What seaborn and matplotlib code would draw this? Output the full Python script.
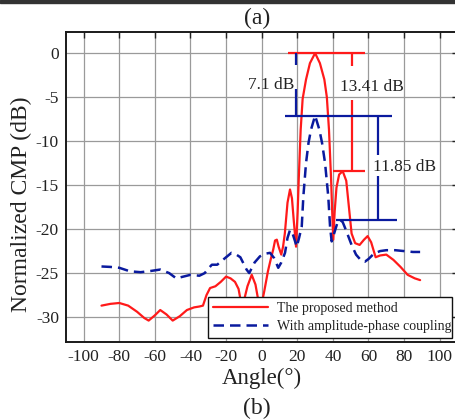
import matplotlib
matplotlib.use("Agg")
import matplotlib.pyplot as plt
from matplotlib.patches import Rectangle
import numpy as np
import pandas as pd
import seaborn as sns

# Normalized CMP of the proposed method (solid red)
proposed_angle = [-90, -85, -80, -75, -70, -66, -63.5, -60, -57, -53.5, -50, -46, -42, -38,
                  -35, -33, -31, -29, -26, -23, -20, -17.5, -15, -13, -11, -8, -5.6, -3.5,
                  -2, 0, 1.5, 3.5, 5, 6.5, 7.5, 8.5, 9.5, 11, 12, 13, 14.5, 15.9, 17, 18,
                  19.3, 20.2, 20.8, 21.9, 23, 24.9, 27.1, 30, 32.7, 35.2, 36.6, 37.8, 39.0,
                  39.6, 40.2, 41, 42, 43.5, 45.5, 47.5, 49, 50.5, 52.5, 55, 57.5, 59.5, 61.5,
                  64, 66.5, 70, 74, 78, 82, 86, 89]
proposed_cmp = [-28.7, -28.5, -28.4, -28.7, -29.4, -30.1, -30.4, -29.8, -29.2, -29.7, -30.4,
                -29.9, -29.2, -28.9, -28.8, -28.7, -27.5, -26.7, -26.5, -26.0, -25.4, -25.6,
                -26.0, -26.8, -29.0, -26.5, -25.2, -26.3, -28.0, -28.5, -27.0, -24.8, -23.5,
                -22.3, -21.3, -21.2, -22.0, -22.9, -22.0, -20.5, -17.0, -15.5, -16.5, -19.0,
                -22.0, -18.0, -14.4, -8.7, -5.2, -3.0, -1.14, 0.0, -1.14, -3.0, -5.0, -8.7,
                -14.4, -18.0, -21.2, -18.0, -15.3, -13.8, -13.41, -14.5, -17.5, -20.5, -21.6,
                -21.8, -21.2, -20.8, -21.5, -23.2, -23.0, -22.9, -23.5, -24.3, -25.2, -25.6,
                -25.8]

# Normalized CMP with amplitude-phase coupling (dashed blue)
coupled_angle = [-90, -85, -80, -74, -68, -62, -57, -52, -48, -44, -40, -35, -32, -30, -28,
                 -25, -23, -20, -17, -15, -12, -8.5, -7, -4, -1, 2, 4.7, 7, 9.3, 11, 13.1,
                 14.5, 15.9, 17.5, 19.7, 21, 22.5, 23.4, 24.9, 26.3, 27.7, 30, 32.4, 33.9,
                 35.6, 37.4, 38.4, 39.3, 41, 42.5, 44, 45.5, 47.5, 50.5, 53, 56, 58, 60, 63,
                 66.5, 70, 75, 80, 85, 89]
coupled_cmp = [-24.25, -24.3, -24.4, -24.8, -24.9, -24.75, -24.6, -25.0, -25.6, -25.4, -25.2,
               -25.3, -25.0, -24.5, -24.05, -24.05, -23.7, -23.2, -22.7, -22.8, -23.2, -24.6,
               -25.0, -23.8, -23.1, -22.8, -22.7, -23.3, -24.4, -23.8, -22.7, -21.0, -20.1,
               -20.6, -22.0, -21.0, -19.7, -16.3, -12.5, -10.2, -8.7, -7.1, -8.7, -10.2,
               -12.5, -16.3, -19.7, -21.4, -20.3, -19.3, -18.95, -19.2, -20.2, -21.8, -22.9,
               -23.6, -23.7, -23.4, -22.8, -22.5, -22.4, -22.4, -22.5, -22.6, -22.6]

series_labels = ["The proposed method", "With amplitude-phase coupling"]
x_ticks = list(range(-100, 101, 20))
y_ticks = list(range(-30, 1, 5))

# Level differences marked on the plot
main_peak_gap = 7.1        # proposed main lobe vs coupled main lobe
proposed_sll = 13.41       # proposed main lobe to first sidelobe
coupled_sll = 11.85        # coupled main lobe to first sidelobe

df = pd.concat([
    pd.DataFrame({"angle": proposed_angle, "cmp": proposed_cmp, "series": series_labels[0]}),
    pd.DataFrame({"angle": coupled_angle, "cmp": coupled_cmp, "series": series_labels[1]}),
], ignore_index=True)

sns.set_style("white")
plt.rcParams["font.family"] = ["Liberation Serif", "DejaVu Serif"]
plt.rcParams["axes.unicode_minus"] = False

red = "#ff1a1a"
blue = "#0a1a9e"
ink = "#222222"

fig = plt.figure(figsize=(4.55, 4.19), dpi=100)
ax = fig.add_axes([0.1448, 0.1845, 0.8607, 0.738])

sns.lineplot(data=df[df.series == series_labels[0]], x="angle", y="cmp", ax=ax,
             color=red, lw=1.6, estimator=None, label=series_labels[0])
sns.lineplot(data=df[df.series == series_labels[1]], x="angle", y="cmp", ax=ax,
             color=blue, lw=1.8, estimator=None, label=series_labels[1])
ax.lines[1].set_dashes((4.2, 2.4))

ax.set_xlim(-110, 110)
ax.set_ylim(-32.8, 2.35)
ax.set_xticks(x_ticks)
ax.set_yticks(y_ticks)
ax.grid(True, color="#9a9a9a", lw=0.9)
ax.set_axisbelow(True)
ax.tick_params(direction="in", length=4, width=1, top=True, right=True,
               labelsize=12.5, colors=ink, pad=5)
for s in ax.spines.values():
    s.set_color("#1a1a1a")
    s.set_linewidth(1.4)

ax.set_xlabel("Angle(°)", fontsize=16.5, color=ink, labelpad=2)
ax.set_ylabel("")
fig.text(21 / 455, 1 - 204 / 419, "Normalized CMP (dB)", rotation=90, ha="center",
         va="center", fontsize=17, color=ink)

# Level-difference markers
peak = max(proposed_cmp)
coupled_peak = peak - main_peak_gap
side_red = peak - proposed_sll
side_blue = coupled_peak - coupled_sll
ax.hlines(peak, 15, 58, color=red, lw=1.6)
ax.hlines(side_red, 40, 58, color=red, lw=1.6)
ax.vlines(50.5, peak, -1.5, color=red, lw=1.6)
ax.vlines(50.5, -5.3, side_red, color=red, lw=1.6)
ax.hlines(coupled_peak, 13, 73, color=blue, lw=1.6)
ax.hlines(side_blue, 42, 76, color=blue, lw=1.6)
ax.vlines(19, peak, -1.3, color=blue, lw=1.6)
ax.vlines(19, -4.1, coupled_peak, color=blue, lw=1.6)
ax.vlines(65.4, coupled_peak, -11.6, color=blue, lw=1.6)
ax.vlines(65.4, -14.0, side_blue, color=blue, lw=1.6)
ax.text(5.5, -3.6, f"{main_peak_gap} dB", ha="center", va="center", fontsize=12.5, color=ink)
ax.text(62.2, -3.9, f"{proposed_sll} dB", ha="center", va="center", fontsize=12.5, color=ink)
ax.text(80.2, -12.9, f"{coupled_sll} dB", ha="center", va="center", fontsize=12.5, color=ink)

leg = ax.legend(loc="lower left", bbox_to_anchor=(0.363, 0.012, 0.623, 0.142), mode="expand",
                fontsize=10, frameon=True, fancybox=False, framealpha=1, edgecolor="#111111",
                handlelength=4.0, handletextpad=0.6, borderpad=0.35, labelspacing=0.35,
                borderaxespad=0)
leg.get_frame().set_linewidth(1.0)
for t in leg.get_texts():
    t.set_color(ink)

fig.text(257 / 455, 1 - 18 / 419, "(a)", ha="center", va="center", fontsize=17, color=ink)
fig.text(257 / 455, 1 - 408 / 419, "(b)", ha="center", va="center", fontsize=17, color=ink)
fig.patches.append(Rectangle((0, 1 - 3 / 419), 1, 3 / 419, transform=fig.transFigure,
                             color="#333333", zorder=10))

fig.savefig("out.png", dpi=100, facecolor="white")
